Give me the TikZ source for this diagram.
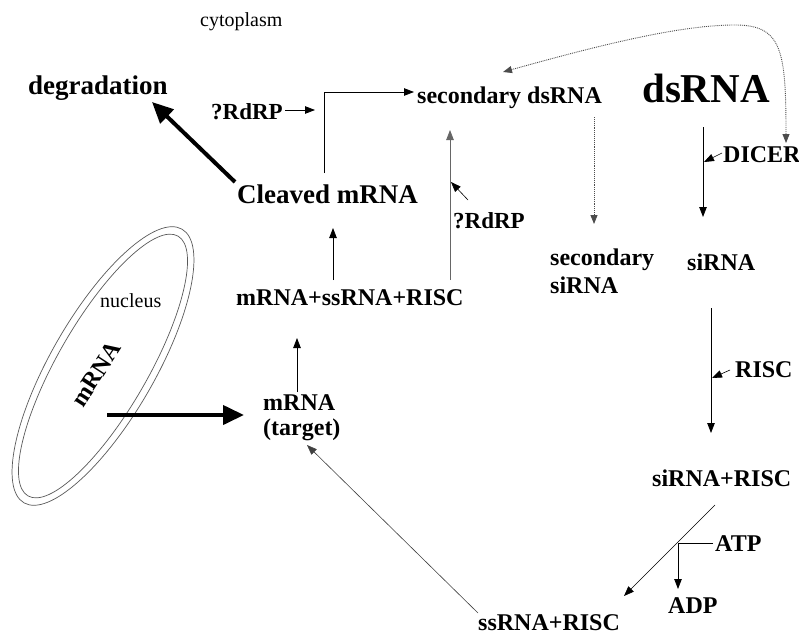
\documentclass[tikz,border=0pt]{standalone}
\usepackage{fontspec}
\setmainfont{Liberation Serif}
\usetikzlibrary{arrows.meta}
\begin{document}
\begin{tikzpicture}[x=1pt,y=-1pt,
  lbl/.style={anchor=base west, inner sep=0pt, font=\fontsize{24}{26}\selectfont\bfseries},
  smalllbl/.style={lbl, font=\fontsize{23}{25}\selectfont\bfseries},
  biglbl/.style={lbl, font=\fontsize{27}{30}\selectfont\bfseries},
  reg/.style={anchor=base west, inner sep=0pt, font=\fontsize{20}{22}\selectfont},
  arr/.style={-{Triangle[length=10pt,width=7.5pt]}, line width=0.8pt},
  grayarr/.style={arr, black!60},
  fatarr/.style={-{Triangle[length=21pt,width=19pt]}, line width=4pt},
  dotline/.style={densely dotted, line width=0.9pt, black!70},
  membrane/.style={line width=0.7pt, black!65},
]
\useasboundingbox (0,0) rectangle (799,634);

% nucleus: double membrane
\begin{scope}[shift={(103,366)}, rotate=60]
  \draw[membrane] (0,0) ellipse [x radius=158pt, y radius=52pt];
  \draw[membrane] (0,0) ellipse [x radius=150pt, y radius=45pt];
\end{scope}

% labels
\node[reg] (cyto) at (200,27) {cytoplasm};
\node[biglbl] (degr) at (28,94) {degradation};
\node[smalllbl] (rdrpA) at (211,119) {?RdRP};
\node[biglbl] (cleaved) at (237,203) {Cleaved mRNA};
\node[lbl] (secds) at (417,103) {secondary dsRNA};
\node[lbl, font=\fontsize{41}{44}\selectfont\bfseries] (ds) at (642,102) {dsRNA};
\node[lbl] (dicer) at (723,162) {DICER};
\node[smalllbl] (rdrpB) at (453,228) {?RdRP};
\node[lbl] (secsiA) at (550,265) {secondary};
\node[lbl] (secsiB) at (550,293) {siRNA};
\node[lbl] (si) at (687,270) {siRNA};
\node[lbl] (risc) at (735,377) {RISC};
\node[lbl] (sirisc) at (652,486) {siRNA+RISC};
\node[lbl] (atp) at (715,551) {ATP};
\node[lbl] (adp) at (668,613) {ADP};
\node[lbl] (ssrisc) at (478,630) {ssRNA+RISC};
\node[lbl] (cplx) at (236,305) {mRNA+ssRNA+RISC};
\node[lbl] (tgtA) at (263,410) {mRNA};
\node[lbl] (tgtB) at (263,435) {(target)};
\node[reg] (nuc) at (100,307) {nucleus};
\node[lbl, anchor=center, rotate=57] (nucmrna) at (96,374) {mRNA};

% connector end points
\coordinate (cleavedOut) at (235,182);
\coordinate (degrIn) at (152,102);
\coordinate (rdrpAOut) at (285,110);
\coordinate (rdrpAIn) at (315,110);
\coordinate (cleavedUp) at (324,173);
\coordinate (secdsInL) at (414,92);
\coordinate (secdsTop) at (503,72);
\coordinate (dicerTop) at (786,143);
\coordinate (secdsDown) at (594,117);
\coordinate (secsiIn) at (594,224);
\coordinate (cplxUpR) at (450,280);
\coordinate (secdsBot) at (450,130);
\coordinate (rdrpBOut) at (468,200);
\coordinate (rdrpBIn) at (451,182);
\coordinate (dsDown) at (703,127);
\coordinate (siIn) at (703,217);
\coordinate (dicerOut) at (722,153);
\coordinate (dicerIn) at (704,162);
\coordinate (siDown) at (711,308);
\coordinate (siriscIn) at (711,433);
\coordinate (riscOut) at (730,370);
\coordinate (riscIn) at (712,378);
\coordinate (siriscOut) at (715,505);
\coordinate (ssriscIn) at (624,596);
\coordinate (atpOut) at (713,543);
\coordinate (atpJoin) at (678,543);
\coordinate (adpIn) at (678,589);
\coordinate (ssriscOut) at (478,613);
\coordinate (tgtIn) at (307,445);
\coordinate (nucOut) at (107,415);
\coordinate (tgtInL) at (244,415);
\coordinate (tgtUp) at (297,392);
\coordinate (cplxIn) at (297,338);
\coordinate (cplxUpL) at (333,280);
\coordinate (cleavedIn) at (333,228);

% connectors
\draw[fatarr] (cleavedOut) -- (degrIn);
\draw[arr] (rdrpAOut) -- (rdrpAIn);
\draw[arr] (cleavedUp) |- (secdsInL);
\draw[dotline, {Triangle[length=9pt,width=7pt]}-{Triangle[length=9pt,width=7pt]}]
  (secdsTop) .. controls (600,45) and (680,25) .. (735,25)
             .. controls (782,25) and (786,50) .. (dicerTop);
\draw[dotline, -{Triangle[length=9pt,width=7pt]}] (secdsDown) -- (secsiIn);
\draw[grayarr] (cplxUpR) -- (secdsBot);
\draw[arr, line width=0.6pt] (rdrpBOut) -- (rdrpBIn);
\draw[arr] (dsDown) -- (siIn);
\draw[arr, line width=0.6pt] (dicerOut) -- (dicerIn);
\draw[arr] (siDown) -- (siriscIn);
\draw[arr, line width=0.6pt] (riscOut) -- (riscIn);
\draw[arr, line width=0.6pt] (siriscOut) -- (ssriscIn);
\draw[arr] (atpOut) -- (atpJoin) -- (adpIn);
\draw[arr, line width=0.6pt, black!75] (ssriscOut) -- (tgtIn);
\draw[fatarr] (nucOut) -- (tgtInL);
\draw[arr] (tgtUp) -- (cplxIn);
\draw[arr] (cplxUpL) -- (cleavedIn);
\end{tikzpicture}
\end{document}
